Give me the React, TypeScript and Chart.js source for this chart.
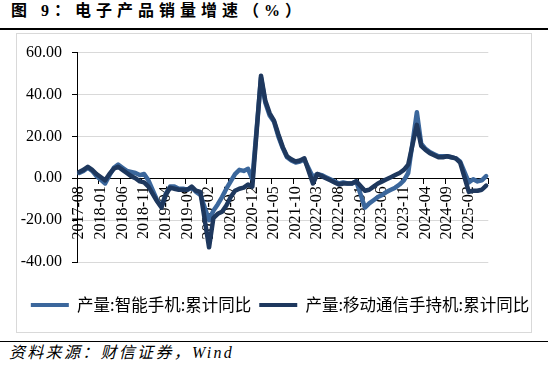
import React, { useEffect, useRef } from 'react';
import { Chart, registerables } from 'chart.js';

Chart.register(...registerables);

// ---- data ----
const START_YEAR = 2017;
const START_MONTH = 8;
const MONTH_COUNT = 95; // 2017-08 .. 2025-06

const categories: string[] = [];
for (let k = 0; k < MONTH_COUNT; k++) {
  const m = START_MONTH - 1 + k;
  const y = START_YEAR + Math.floor(m / 12);
  const mm = (m % 12) + 1;
  categories.push(`${y}-${String(mm).padStart(2, '0')}`);
}

const seriesNames = ['产量:智能手机:累计同比', '产量:移动通信手持机:累计同比'];

// 产量:智能手机:累计同比 (%)
const smartphone: (number | null)[] = [
  2.5, 3.5, 5, 3.5, 1, // 2017-08..12
  null, -2.5, 1.5, 5, 6.5, 5, 3.5, 3, 2.5, 1.5, 2, -1, // 2018
  null, -10.5, -13.5, -7.5, -4, -4, -5, -5, -5.5, -4.5, -6.5, -8, // 2019
  null, -20, -15.5, -12.5, -9, -5, -1.5, 2, 4, 3.5, 4.5, -0.5, // 2020
  null, 48, 36, 30, 27, 20, 14.5, 10, 8.5, 7.5, 8, 9, // 2021
  null, 0.5, 2, 1.5, 0.5, -0.5, -1.5, -2.5, -2, -2.5, -2.5, -1.5, // 2022
  null, -14, -12, -10.5, -9, -8, -6.5, -5.5, -4.5, -3, -1, 2.5, // 2023
  null, 31.5, 16.5, 14, 12.5, 11.5, 10.5, 10.5, 10.5, 10, 9.5, 8, // 2024
  null, -2, -0.5, -1.5, -1, 1, // 2025
];

// 产量:移动通信手持机:累计同比 (%)
const mobileHandset: (number | null)[] = [
  3, 4, 5.5, 4, 2, // 2017-08..12
  null, -1, 2, 4.5, 5.5, 4, 2.5, 1, 0, -1.5, -2, -4, // 2018
  null, -11, -14, -8, -4.5, -5, -5.5, -5.5, -5.5, -4, -6, -6.5, // 2019
  null, -33, -19, -17, -16, -13, -9, -6, -5, -4.5, -3, -4, // 2020
  null, 49, 37, 31, 27.5, 21, 15, 10.5, 9, 8, 8.5, 9.5, // 2021
  null, -2.5, 2, 1, 0, -1, -2, -3, -2.5, -2.5, -2.5, -1.5, // 2022
  null, -6, -5.5, -4, -2.5, -1.5, -0.5, 0.5, 1.5, 2.5, 4, 6.5, // 2023
  null, 25.5, 15.5, 13.5, 12, 11, 10, 10, 10.5, 10, 9.5, 7.5, // 2024
  null, -6.5, -6, -6, -5.5, -3.5, // 2025
];

const Y_MIN = -40;
const Y_MAX = 60;
const Y_STEP = 20;
const LABEL_EVERY = 5;

const COLOR_LIGHT = '#3b679c';
const COLOR_DARK = '#1e385e';

const SERIF = "'Liberation Serif', 'Noto Sans CJK SC', serif";
const SANS = "'Noto Sans CJK SC', 'Noto Sans', sans-serif";

export default function App() {
  const ref = useRef<HTMLCanvasElement | null>(null);

  useEffect(() => {
    if (!ref.current) return;
    const chart = new Chart(ref.current, {
      type: 'line',
      data: {
        labels: categories,
        datasets: [
          {
            label: seriesNames[0],
            data: smartphone,
            borderColor: COLOR_LIGHT,
            backgroundColor: COLOR_LIGHT,
            borderWidth: 4.5,
            pointRadius: 0,
            tension: 0,
            spanGaps: true,
            borderJoinStyle: 'round',
            borderCapStyle: 'round',
            order: 1,
          },
          {
            label: seriesNames[1],
            data: mobileHandset,
            borderColor: COLOR_DARK,
            backgroundColor: COLOR_DARK,
            borderWidth: 4.5,
            pointRadius: 0,
            tension: 0,
            spanGaps: true,
            borderJoinStyle: 'round',
            borderCapStyle: 'round',
            order: 0,
          },
        ],
      },
      options: {
        animation: false,
        responsive: false,
        maintainAspectRatio: false,
        layout: { padding: { left: 0, right: -12, top: 14, bottom: 9.75 } },
        plugins: {
          tooltip: { enabled: false },
          legend: {
            position: 'bottom',
            align: 'center',
            title: {
              display: true,
              text: '',
              padding: { top: 14.75, bottom: 0 },
              font: { size: 12, lineHeight: 1 },
            },
            labels: {
              boxWidth: 38,
              boxHeight: 4,
              padding: 8,
              color: '#000',
              font: { family: SANS, size: 16.5 },
              sort: (a: any, b: any) => a.datasetIndex - b.datasetIndex,
              generateLabels: (c: any) => {
                const items = (Chart.defaults.plugins.legend.labels as any).generateLabels(c);
                return items.map((it: any) => ({ ...it, fillStyle: it.strokeStyle, lineWidth: 0 }));
              },
            },
          },
        },
        scales: {
          x: {
            type: 'category',
            position: { y: 0 } as any,
            offset: true,
            grid: {
              offset: true,
              drawOnChartArea: false,
              drawTicks: true,
              tickLength: 5,
              color: (ctx: any) =>
                ctx.index === undefined || ctx.index % LABEL_EVERY === 0 ? '#000' : 'rgba(0,0,0,0)',
            },
            border: { color: '#000', width: 1 },
            ticks: {
              autoSkip: false,
              maxRotation: 90,
              minRotation: 90,
              padding: 3,
              color: '#000',
              font: { family: SERIF, size: 16 },
              callback: (_v: any, i: number) => (i % LABEL_EVERY === 0 ? categories[i] : ''),
            },
            afterFit: (s: any) => {
              s.height = 0;
            },
          },
          y: {
            type: 'linear',
            position: 'left',
            min: Y_MIN,
            max: Y_MAX,
            grid: {
              color: '#d9d9d9',
              tickColor: '#000',
              tickLength: 5,
              drawTicks: true,
            },
            border: { color: '#000', width: 1 },
            ticks: {
              stepSize: Y_STEP,
              padding: 10,
              color: '#000',
              font: { family: SERIF, size: 16 },
              callback: (v: any) => Number(v).toFixed(2),
            },
            afterFit: (s: any) => {
              s.width = 61;
            },
          },
          y2: {
            type: 'linear',
            position: 'right',
            display: true,
            grid: { display: false, drawTicks: false },
            border: { display: false },
            ticks: { display: false },
            afterFit: (s: any) => {
              s.width = 55.7;
            },
          },
        },
      },
    });
    return () => chart.destroy();
  }, []);

  return (
    <div
      style={{
        position: 'absolute',
        left: 0,
        top: 0,
        width: 550,
        height: 373,
        background: '#fff',
        overflow: 'hidden',
      }}
    >
      <div
        style={{
          position: 'absolute',
          left: 11,
          top: 1,
          fontFamily: SERIF,
          fontWeight: 700,
          fontSize: 16,
          lineHeight: '20px',
          letterSpacing: '5px',
          whiteSpace: 'nowrap',
          color: '#000',
        }}
      >
        图 9：电子产品销量增速（%）
      </div>
      <div style={{ position: 'absolute', left: 0, top: 28, width: 548, height: 2, background: '#000' }} />
      <div
        style={{
          position: 'absolute',
          left: 16,
          top: 33,
          width: 516,
          height: 300,
          border: '1px solid #d9d9d9',
          boxSizing: 'border-box',
        }}
      />
      <canvas
        ref={ref}
        width={516}
        height={300}
        style={{ position: 'absolute', left: 16, top: 33, width: 516, height: 300, display: 'block' }}
      />
      <div style={{ position: 'absolute', left: 0, top: 341, width: 548, height: 1, background: '#000' }} />
      <div
        style={{
          position: 'absolute',
          left: 9,
          top: 343,
          fontFamily: SERIF,
          fontStyle: 'italic',
          fontSize: 16,
          lineHeight: '20px',
          letterSpacing: '2.3px',
          whiteSpace: 'nowrap',
          color: '#000',
        }}
      >
        资料来源：财信证券，Wind
      </div>
    </div>
  );
}
